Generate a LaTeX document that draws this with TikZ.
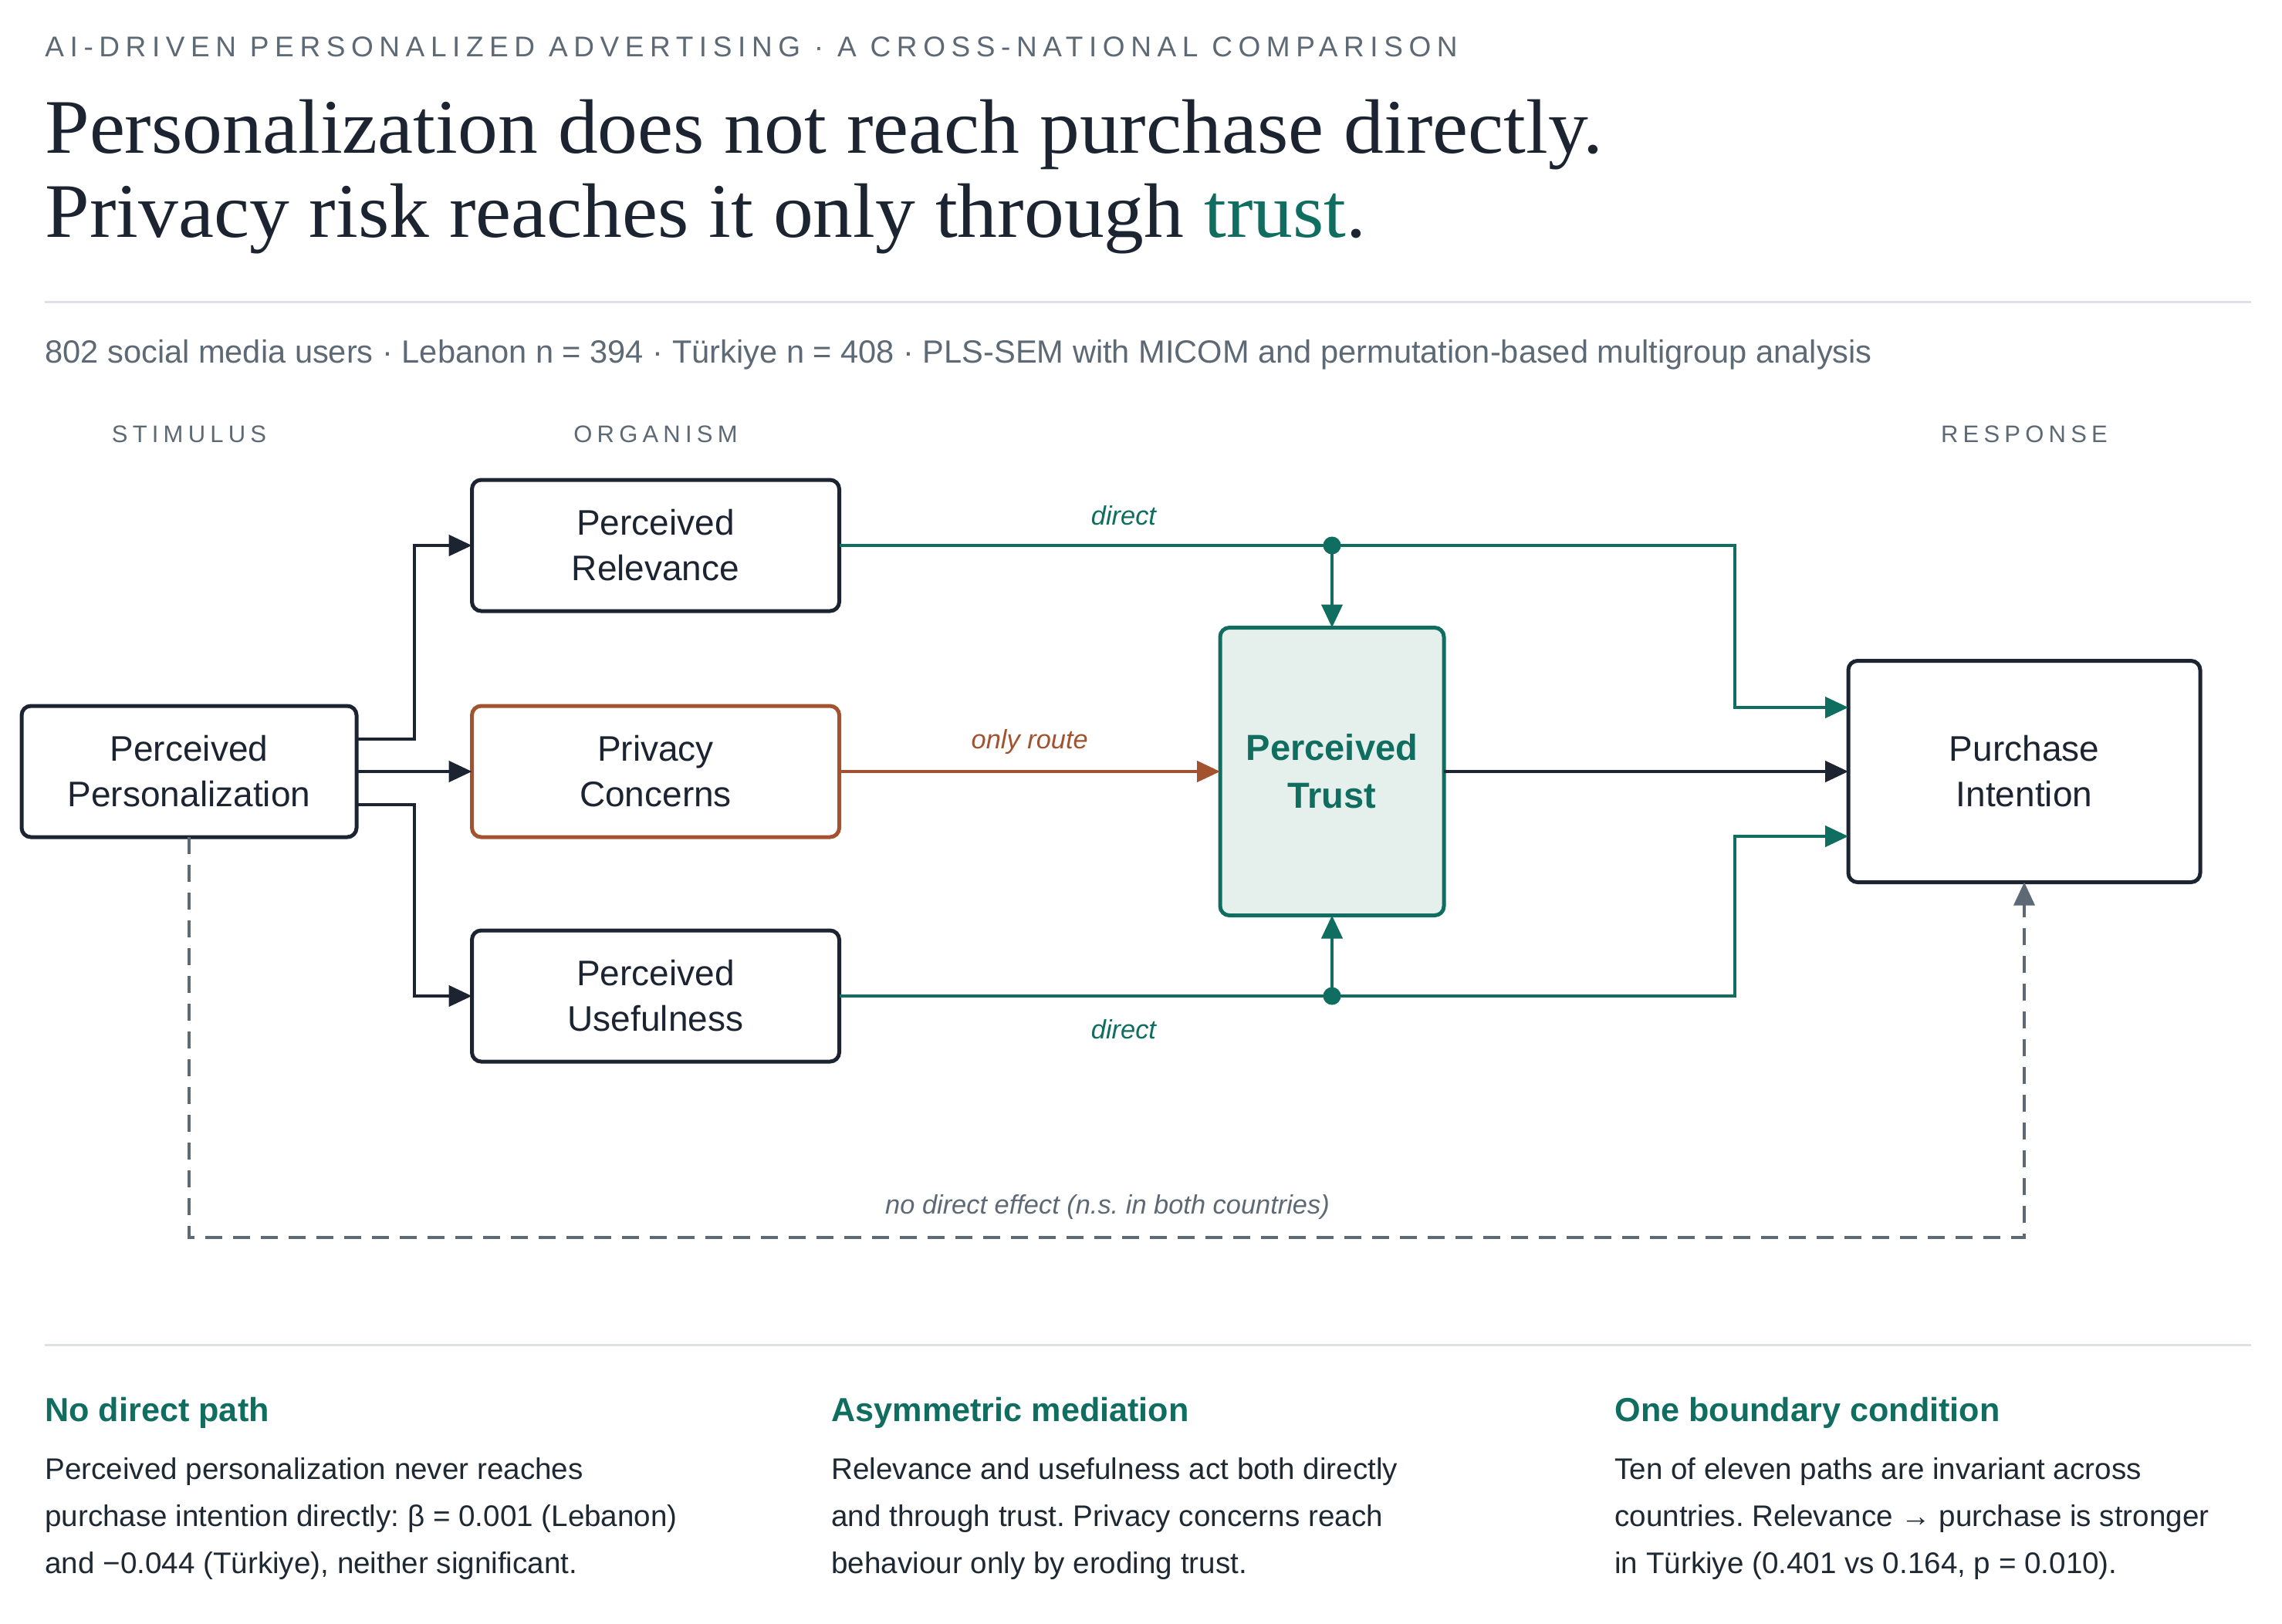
\documentclass[tikz,border=0pt]{standalone}
\usepackage{fontspec}
\setmainfont{Liberation Sans}
\newfontfamily\headfont[FakeStretch=1.036]{Liberation Serif}
\newfontfamily\kickerfont[LetterSpace=20.5]{Liberation Sans}
\newfontfamily\colfont[LetterSpace=20]{Liberation Sans}
\usetikzlibrary{arrows.meta}
\definecolor{ink}{HTML}{1B2430}
\definecolor{tealc}{HTML}{106E60}
\definecolor{rust}{HTML}{A3522F}
\definecolor{graytx}{HTML}{5D6975}
\definecolor{trustfill}{HTML}{E5EFEC}
\definecolor{rulec}{HTML}{DDE1E5}
\definecolor{bodytx}{HTML}{1F2933}
\tikzset{
  box/.style={draw=ink, line width=2.5pt, rounded corners=6pt, fill=white,
    minimum width=238pt, minimum height=85pt, inner sep=0pt, outer sep=0pt,
    align=center, text=ink, font=\fontsize{23}{29.5}\selectfont},
  conn/.style={line width=2.2pt, -{Triangle[length=15pt,width=13.5pt]}},
  lbl/.style={font=\fontsize{17.2}{20}\selectfont\itshape, anchor=base, inner sep=0pt},
  coltitle/.style={font=\fontsize{15.5}{18}\colfont, text=graytx, anchor=base, inner sep=0pt},
  bhead/.style={font=\fontsize{21.6}{25}\selectfont\bfseries, text=tealc, anchor=base west, inner sep=0pt},
  btext/.style={font=\fontsize{19.3}{23}\selectfont, text=bodytx, anchor=base west, inner sep=0pt}
}
\begin{document}
\frenchspacing
\begin{tikzpicture}[x=1pt,y=-1pt]
\fill[white] (0,0) rectangle (1478.5,1052.5);
\useasboundingbox (0,0) rectangle (1478.5,1052.5);

% header
\node[anchor=base west, inner sep=0pt, text=graytx, font=\fontsize{18.5}{22}\kickerfont] (kicker) at (29,36.5)
  {AI-DRIVEN PERSONALIZED ADVERTISING · A CROSS-NATIONAL COMPARISON};
\node[anchor=base west, inner sep=0pt, text=ink, font=\fontsize{50}{55}\headfont] (head1) at (29,99)
  {Personalization does not reach purchase directly.};
\node[anchor=base west, inner sep=0pt, text=ink, font=\fontsize{50}{55}\headfont] (head2) at (29,153.5)
  {Privacy risk reaches it only through \textcolor{tealc}{trust}.};
\draw[rulec, line width=1.5pt] (29,195.5) -- (1458.5,195.5);
\node[anchor=base west, inner sep=0pt, text=graytx, font=\fontsize{20.8}{24}\selectfont] (sub) at (29,235)
  {802 social media users · Lebanon n = 394 · Türkiye n = 408 · PLS-SEM with MICOM and permutation-based multigroup analysis};

% column titles
\node[coltitle] (cS) at (122.5,286.5) {STIMULUS};
\node[coltitle] (cO) at (424.75,286.5) {ORGANISM};
\node[coltitle] (cR) at (1311.5,286.5) {RESPONSE};

% nodes
\node[box, minimum width=217pt] (pers) at (122.5,500) {Perceived\\Personalization};
\node[box] (rel) at (424.75,353.5) {Perceived\\Relevance};
\node[box, draw=rust] (priv) at (424.75,500) {Privacy\\Concerns};
\node[box] (use) at (424.75,645.5) {Perceived\\Usefulness};
\node[box, draw=tealc, fill=trustfill, minimum width=145pt, minimum height=186.5pt,
  text=tealc, font=\fontsize{23.5}{31}\selectfont\bfseries] (trust) at (863,500) {Perceived\\Trust};
\node[box, minimum width=228pt, minimum height=143.5pt] (purch) at (1311.5,500) {Purchase\\Intention};

% coordinates
\coordinate (elbow) at (268.5,500);
\coordinate (rx) at (1124,500);
\coordinate (purchTop) at ([yshift=41.5pt]purch.west);
\coordinate (purchBot) at ([yshift=-42pt]purch.west);
\coordinate (dT) at (trust.north |- rel.east);
\coordinate (dB) at (trust.south |- use.east);
\coordinate (dashL) at (122.5,802);

% stimulus branches
\draw[conn, ink] ([yshift=21pt]pers.east) -| (elbow |- rel.west) -- (rel.west);
\draw[conn, ink] (pers.east) -- (priv.west);
\draw[conn, ink] ([yshift=-21.5pt]pers.east) -| (elbow |- use.west) -- (use.west);

% teal direct paths
\draw[conn, tealc] (rel.east) -| (rx |- purchTop) -- (purchTop);
\draw[conn, tealc] (use.east) -| (rx |- purchBot) -- (purchBot);
\fill[tealc] (dT) circle (5.75pt);
\fill[tealc] (dB) circle (5.75pt);
\draw[conn, tealc] (dT) -- (trust.north);
\draw[conn, tealc] (dB) -- (trust.south);
\node[lbl, text=tealc] (ldir1) at (728,340) {direct};
\node[lbl, text=tealc] (ldir2) at (728,673) {direct};

% privacy -> trust
\draw[conn, rust] (priv.east) -- (trust.west) node[lbl, midway, yshift=15pt, text=rust] (lonly) {only route};

% trust -> purchase
\draw[conn, ink] (trust.east) -- (purch.west);

% dashed no direct effect
\draw[line width=1.8pt, graytx, dash pattern=on 11pt off 7pt, -{Triangle[length=15pt,width=13.5pt]}]
  (pers.south) -- (dashL) -| (purch.south);
\node[lbl, text=graytx] (lnd) at (717.5,786.5) {no direct effect (n.s. in both countries)};

% bottom
\draw[rulec, line width=1.5pt] (29,871.5) -- (1458.5,871.5);
\node[bhead] (h1) at (29,921) {No direct path};
\node[bhead] (h2) at (538.5,921) {Asymmetric mediation};
\node[bhead] (h3) at (1046,921) {One boundary condition};

\node[btext] (a1) at (29,958.5) {Perceived personalization never reaches};
\node[btext] (a2) at (29,989) {purchase intention directly: β = 0.001 (Lebanon)};
\node[btext] (a3) at (29,1019.5) {and −0.044 (Türkiye), neither significant.};

\node[btext] (b1) at (538.5,958.5) {Relevance and usefulness act both directly};
\node[btext] (b2) at (538.5,989) {and through trust. Privacy concerns reach};
\node[btext] (b3) at (538.5,1019.5) {behaviour only by eroding trust.};

\node[btext] (c1) at (1046,958.5) {Ten of eleven paths are invariant across};
\node[btext] (c2) at (1046,989) {countries. Relevance → purchase is stronger};
\node[btext] (c3) at (1046,1019.5) {in Türkiye (0.401 vs 0.164, p = 0.010).};
\end{tikzpicture}
\end{document}
